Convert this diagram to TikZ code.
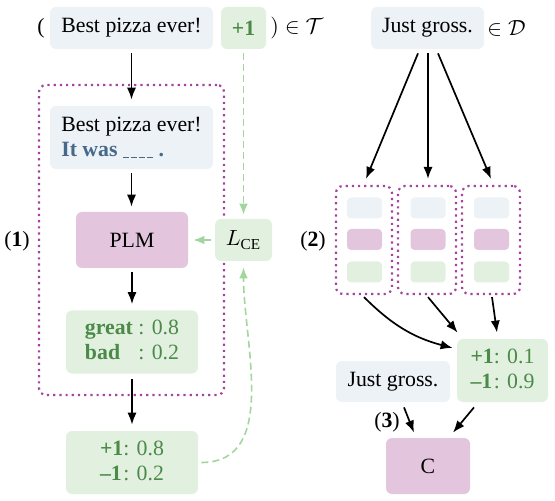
\documentclass[tikz,border=0pt]{standalone}
\usepackage{fontspec}
\setmainfont{Liberation Serif}
\usetikzlibrary{arrows.meta,calc}
\definecolor{boxblue}{HTML}{EDF2F7}
\definecolor{boxgreen}{HTML}{E2F0DF}
\definecolor{boxpink}{HTML}{E3C6DE}
\definecolor{dotpurple}{HTML}{A3459F}
\definecolor{txtgreen}{HTML}{4B8A48}
\definecolor{txtblue}{HTML}{46698A}
\definecolor{dashgreen}{HTML}{A2D69C}
\newcommand{\blankseg}{\rule[-0.6pt]{3pt}{0.55pt}}
\begin{document}
\begin{tikzpicture}[x=0.5pt,y=-0.5pt,font=\rmfamily\fontsize{10.9}{12.5}\selectfont,
  base/.style={rounded corners=3pt,inner sep=0pt,align=center},
  bluebox/.style={base,fill=boxblue},
  greenbox/.style={base,fill=boxgreen,text=txtgreen},
  pinkbox/.style={base,fill=boxpink},
  dotbox/.style={draw=dotpurple,line width=1.1pt,dotted,rounded corners=3.5pt,inner sep=0pt},
  arr/.style={-{Latex[length=6pt,width=4.6pt]},line width=0.85pt},
  darr/.style={-{Latex[length=5.5pt,width=4.4pt]},line width=0.8pt,draw=dashgreen,dash pattern=on 3.5pt off 2pt},
  mini/.style={rounded corners=2pt,minimum width=17.5pt,minimum height=10.5pt,inner sep=0pt},
  lbl/.style={inner sep=0pt}]
\useasboundingbox (0,0) rectangle (555,501);

% left part
\node[dotbox,minimum width=92.5pt,minimum height=155pt] (dot1) at (131.5,240) {};
\node[bluebox,minimum width=81.5pt,minimum height=21pt] (best1) at (131.5,28) {Best pizza ever!};
\node[greenbox,minimum width=22.5pt,minimum height=21pt] (plus1) at (243.5,28) {\textbf{+1}};
\node[lbl] (lp) at (41,28) {(};
\node[lbl,anchor=west] (inT) at (270,28) {$)\in\mathcal{T}$};
\node[bluebox,minimum width=81.5pt,minimum height=31.5pt,align=left] (best2) at (131.5,137.5)
  {Best pizza ever!\\{\color{txtblue}\textbf{It was} \blankseg\hspace{1pt}\blankseg\hspace{1pt}\blankseg\hspace{1pt}\blankseg\ \textbf{.}}};
\node[pinkbox,minimum width=56pt,minimum height=28pt] (plm) at (132,240) {PLM};
\node[greenbox,minimum width=28.5pt,minimum height=21pt,text=black] (lce) at (243.5,240) {$L_{\mathrm{CE}}$};
\node[greenbox,minimum width=66pt,minimum height=31.5pt] (great) at (132,342)
  {\begin{tabular}{@{}l@{\ }l@{}}\textbf{great} & : 0.8\\ \textbf{bad} & : 0.2\end{tabular}};
\node[greenbox,minimum width=66pt,minimum height=31.5pt] (out1) at (132,462.5)
  {\begin{tabular}{@{}l@{}l@{}}\textbf{+1} & : 0.8\\ \textbf{–1} & : 0.2\end{tabular}};
\node[lbl] (l1) at (17,241) {(\textbf{1})};

\draw[arr,shorten <=2pt,shorten >=3pt] (best1) -- (best2);
\draw[arr,shorten <=2pt,shorten >=2.5pt] (best2.south) -- (best2.south |- plm.north);
\draw[arr,shorten <=2pt,shorten >=3pt] (plm) -- (great);
\draw[arr,shorten <=2.5pt,shorten >=3pt] (great) -- (out1);
\draw[darr,shorten <=2pt,shorten >=2pt] (plus1) -- (lce);
\draw[darr,shorten <=2pt,shorten >=2.5pt] (lce) -- (plm);
\draw[darr,shorten <=1.5pt,shorten >=3pt] (out1.east) to[out=0,in=-90] (lce.south);

% right part
\node[bluebox,minimum width=56.5pt,minimum height=21pt] (jg1) at (427.5,28) {Just gross.};
\node[lbl,anchor=west] (inD) at (487,28) {$\in\mathcal{D}$};
\node[dotbox,minimum width=28pt,minimum height=54pt] (d1) at (364,240) {};
\node[dotbox,minimum width=29pt,minimum height=54pt] (d2) at (427,240) {};
\node[dotbox,minimum width=29pt,minimum height=54pt] (d3) at (491,240) {};
\foreach \n/\xx in {a/364.5,b/428,c/491.5}{
  \node[mini,fill=boxblue] (\n1) at (\xx,208) {};
  \node[mini,fill=boxpink] (\n2) at (\xx,239.5) {};
  \node[mini,fill=boxgreen] (\n3) at (\xx,272) {};
}
\node[lbl] (l2) at (313,241) {(\textbf{2})};
\node[greenbox,minimum width=45.5pt,minimum height=31.5pt] (out2) at (502.5,370.5)
  {\begin{tabular}{@{}l@{}l@{}}\textbf{+1} & : 0.1\\ \textbf{–1} & : 0.9\end{tabular}};
\node[bluebox,minimum width=57pt,minimum height=20.5pt] (jg2) at (393,381.5) {Just gross.};
\node[pinkbox,minimum width=42pt,minimum height=28pt] (cc) at (428,466) {C};
\node[lbl] (l3) at (387,422) {(\textbf{3})};

\draw[arr] ($(jg1.south)+(-9.5,4)$) -- ($(d1.north)+(2,-6)$);
\draw[arr] ($(jg1.south)+(0.5,4)$) -- ($(d2.north)+(1,-6)$);
\draw[arr] ($(jg1.south)+(10.5,4)$) -- ($(d3.north)+(0,-6)$);
\draw[arr] ($(d1.south)+(0,2)$) to[bend right=15] ($(out2.west)+(-4,-22.5)$);
\draw[arr] ($(d2.south)+(1,2)$) -- ($(out2.north west)+(1,-6)$);
\draw[arr] ($(d3.south)+(1,2)$) -- ($(out2.north)+(-5.5,-6)$);
\draw[arr] ($(jg2.south)+(11,5)$) -- ($(cc.north)+(-14,-5)$);
\draw[arr] ($(out2.south)+(-28.5,5)$) -- ($(cc.north)+(25,-5)$);
\end{tikzpicture}
\end{document}
